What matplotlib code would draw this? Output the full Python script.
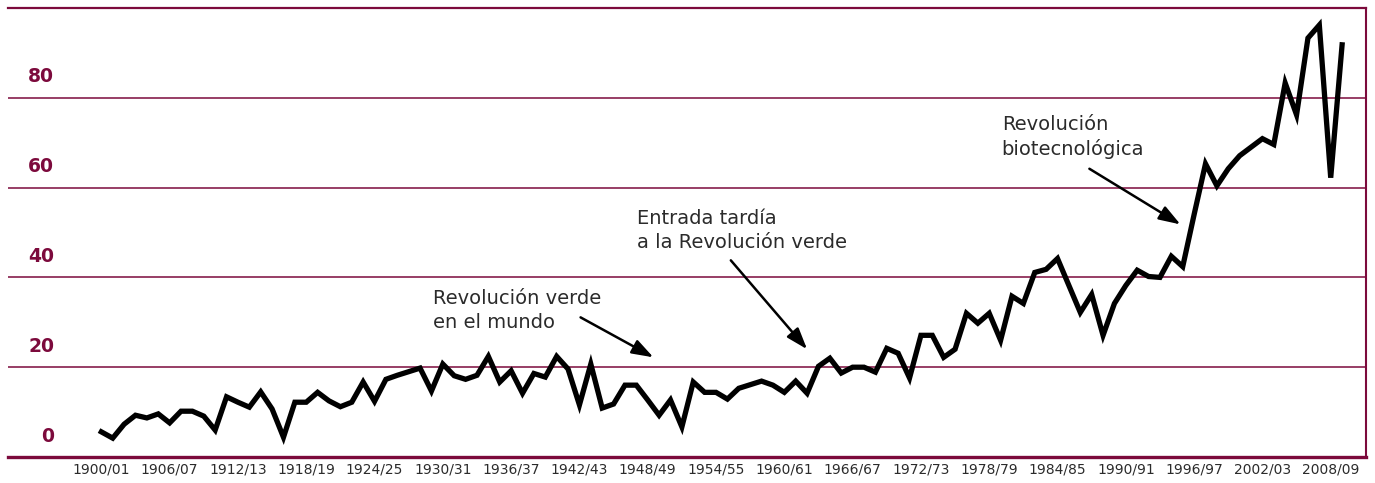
import matplotlib
matplotlib.use("Agg")
import matplotlib.pyplot as plt
from matplotlib.transforms import ScaledTranslation

# ---------------- data ----------------
values = [
    5.6, 4.2, 7.3, 9.3, 8.7, 9.6, 7.6, 10.2, 10.2, 9.1,
    6.0, 13.4, 12.2, 11.1, 14.5, 10.7, 4.4, 12.2, 12.2, 14.4,
    12.5, 11.2, 12.2, 16.7, 12.4, 17.3, 18.2, 19.0, 19.8, 14.7,
    20.7, 18.1, 17.3, 18.2, 22.4, 16.7, 19.2, 14.2, 18.6, 17.8,
    22.4, 19.6, 11.6, 20.7, 10.9, 11.8, 16.0, 16.0, 12.7, 9.3,
    12.7, 6.7, 16.7, 14.4, 14.4, 12.9, 15.3, 16.1, 16.9, 16.0,
    14.4, 16.9, 14.2, 20.2, 22.0, 18.7, 20.0, 20.0, 18.9, 24.2,
    23.1, 17.6, 27.1, 27.1, 22.2, 24.0, 32.0, 29.8, 32.0, 26.0,
    35.8, 34.2, 41.1, 41.8, 44.2, 38.2, 32.2, 36.2, 27.1, 34.2,
    38.2, 41.6, 40.2, 40.0, 44.7, 42.4, 54.0, 65.3, 60.4, 64.2,
    67.1, 69.0, 70.9, 69.6, 83.3, 76.2, 93.3, 96.2, 62.2, 91.8,
]
x = list(range(len(values)))

tick_pos = list(range(0, 109, 6))
tick_labels = ["1900/01", "1906/07", "1912/13", "1918/19", "1924/25", "1930/31",
               "1936/37", "1942/43", "1948/49", "1954/55", "1960/61", "1966/67",
               "1972/73", "1978/79", "1984/85", "1990/91", "1996/97", "2002/03",
               "2008/09"]

y_levels = [0, 20, 40, 60, 80]
y_labels = ["0", "20", "40", "60", "80"]

# text, text anchor (left, centre), arrow start, arrow tip
notes = [
    ("Revolución verde\nen el mundo", (29.1, 32.7), (42.1, 31.1), (48.5, 22.2)),
    ("Entrada tardía\na la Revolución verde", (47.1, 50.4), (55.3, 43.8), (62.0, 24.0)),
    ("Revolución\nbiotecnológica", (79.1, 71.3), (86.8, 64.2), (94.8, 51.8)),
]

MAROON = "#7c0a3c"
TEXT = "#2b2b2b"

# ---------------- figure ----------------
fig = plt.figure(figsize=(13.75, 4.83), dpi=100)
W, H = 1375, 483
ax = fig.add_axes([8 / W, (H - 457) / H, (1366 - 8) / W, (457 - 8) / H])

ax.plot(x, values, color="black", lw=3.8, solid_joinstyle="miter", zorder=3)

ax.set_xlim(-8.2, 111.1)
ax.set_ylim(0, 100)

# horizontal rules
ax.set_yticks([0, 20, 40, 60, 80, 100])
ax.yaxis.grid(True, color=MAROON, lw=1.1)
ax.tick_params(axis="y", length=0, labelleft=False)
ax.set_axisbelow(True)

ax.spines["left"].set_visible(False)
ax.spines["top"].set_color(MAROON)
ax.spines["top"].set_linewidth(1.6)
ax.spines["bottom"].set_color(MAROON)
ax.spines["bottom"].set_linewidth(2.4)
ax.spines["right"].set_color(MAROON)
ax.spines["right"].set_linewidth(1.5)

# y labels sit just above their rules
lab_tr = ax.get_yaxis_transform() + ScaledTranslation(0, 21 / 100, fig.dpi_scale_trans)
for v, lab in zip(y_levels, y_labels):
    ax.text((54 - 8) / (1366 - 8), v, lab, transform=lab_tr, ha="right", va="center",
            fontsize=13.5, fontweight="heavy", color=MAROON)

ax.set_xticks(tick_pos)
ax.set_xticklabels(tick_labels, fontsize=10, color=TEXT)
ax.tick_params(axis="x", length=0, pad=4)

for txt, tpos, start, tip in notes:
    ax.text(tpos[0], tpos[1], txt, ha="left", va="center", fontsize=14,
            color=TEXT, linespacing=1.35)
    ax.annotate("", xy=tip, xytext=start,
                arrowprops=dict(arrowstyle="-|>,head_length=1.3,head_width=0.45",
                                color="black", lw=1.8, shrinkA=0, shrinkB=0))

fig.savefig("out.png", dpi=100)
